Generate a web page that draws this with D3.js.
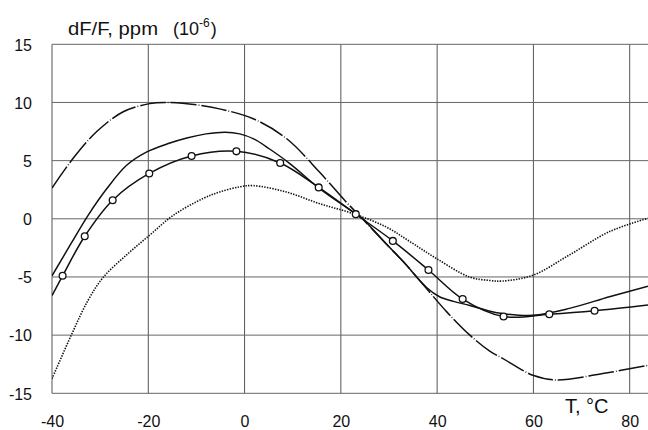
<!DOCTYPE html>
<html>
<head>
<meta charset="utf-8">
<script src="https://cdn.jsdelivr.net/npm/d3@7"></script>
<style>
  body { margin: 0; background: #fff; }
  text { font-family: Arial, "Liberation Sans", sans-serif; fill: #111; }
</style>
</head>
<body>
<div id="chart"></div>
<script>
// tick values
const xTicks = [-40, -20, 0, 20, 40, 60, 80];
const yTicks = [-15, -10, -5, 0, 5, 10, 15];

// curve with circle markers (first and last points are the line ends, no marker)
const markT = [-40, -37.8, -33.2, -27.4, -19.8, -11.0, -1.7, 7.4, 15.4, 23.1, 30.8, 38.2, 45.3, 53.8, 63.3, 72.7, 83.8];
const markV = [-6.6, -4.9, -1.5, 1.6, 3.9, 5.4, 5.8, 4.8, 2.7, 0.4, -1.9, -4.4, -6.9, -8.4, -8.2, -7.9, -7.4];

// plain solid curve
const solidT = [-40, -36, -32.5, -28.6, -24.5, -20.3, -16, -12, -8, -4, -1, 2, 5.2, 9.4, 15.6, 22.5, 24.5, 29.4, 33, 37.8, 40.5, 43.4, 46.8, 51, 53.6, 59.9, 67.5, 75.8, 83.8];
const solidV = [-4.9, -2.1, 0.3, 2.6, 4.6, 5.75, 6.45, 6.95, 7.3, 7.45, 7.3, 6.85, 6.0, 4.75, 2.6, 0.6, 0, -2.15, -3.7, -5.9, -6.7, -7.1, -7.45, -7.95, -8.15, -8.3, -7.7, -6.7, -5.8];

// long dash curve
const dashT = [-40, -35.6, -30.7, -25.2, -19.7, -16.2, -10, -5.2, 1.8, 8.7, 15.6, 21.1, 24.5, 29.4, 33, 37.8, 42, 46.8, 51, 53.6, 59.9, 64.7, 74.4, 83.8];
const dashV = [2.65, 5.2, 7.5, 9.2, 9.9, 10.0, 9.8, 9.45, 8.6, 6.9, 4.0, 1.45, 0, -2.15, -3.7, -6.0, -8.0, -10.0, -11.4, -12.0, -13.45, -13.85, -13.3, -12.6];

// dotted curve
const dotT = [-40, -36, -32.5, -29.3, -24.5, -19.7, -14.8, -8.6, -5.2, -1, 1.8, 8.7, 15.6, 22.5, 29.4, 34.5, 39.8, 46.7, 50.9, 53.6, 59.9, 67.5, 75.8, 83.8];
const dotV = [-13.75, -10, -7.0, -5.0, -3.1, -1.4, 0.3, 1.75, 2.3, 2.75, 2.85, 2.3, 1.3, 0.45, -0.7, -2.0, -3.4, -5.0, -5.3, -5.35, -4.85, -3.1, -1.1, 0.05];

const W = 648, H = 430;
const plotLeft = 52, plotTop = 44.3, plotBottom = 393.3;

const x = d3.scaleLinear().domain([-40, 80]).range([plotLeft, 629.7]);
const y = d3.scaleLinear().domain([-15, 15]).range([plotBottom, plotTop]);

const svg = d3.select("#chart").append("svg")
    .attr("width", W)
    .attr("height", H);

svg.append("defs").append("clipPath").attr("id", "plot")
    .append("rect").attr("x", plotLeft).attr("y", plotTop - 2)
    .attr("width", W - plotLeft).attr("height", plotBottom - plotTop + 4);

// grid
const grid = svg.append("g");
xTicks.forEach(t => {
    grid.append("line")
        .attr("x1", x(t)).attr("x2", x(t))
        .attr("y1", plotTop).attr("y2", plotBottom)
        .attr("stroke", "#555").attr("stroke-width", 1);
});
yTicks.forEach(t => {
    grid.append("line")
        .attr("x1", plotLeft).attr("x2", W)
        .attr("y1", y(t)).attr("y2", y(t))
        .attr("stroke", "#666").attr("stroke-width", 1);
});

// axis labels (plain hyphen for negatives, as in the original)
const fmt = d => String(d);
const xAxis = d3.axisBottom(x).tickValues(xTicks).tickFormat(fmt).tickSize(0).tickPadding(0);
const gx = svg.append("g").attr("transform", `translate(0,${plotBottom})`).call(xAxis);
gx.select(".domain").remove();
gx.selectAll("text")
    .attr("font-size", 16).attr("font-family", null)
    .attr("dy", null).attr("y", 33.5);

const yAxis = d3.axisLeft(y).tickValues(yTicks).tickFormat(fmt).tickSize(0).tickPadding(0);
const gy = svg.append("g").attr("transform", `translate(32,0)`).call(yAxis);
gy.select(".domain").remove();
gy.selectAll("text")
    .attr("font-size", 16).attr("font-family", null)
    .attr("dy", "0.36em");
svg.selectAll(".tick text").attr("fill", "#111");

// curves
const line = d3.line()
    .x(d => x(d[0]))
    .y(d => y(d[1]))
    .curve(d3.curveCatmullRom.alpha(0.5));

const plot = svg.append("g").attr("clip-path", "url(#plot)");

plot.append("path")
    .datum(dotT.map((t, i) => [t, dotV[i]]))
    .attr("d", line)
    .attr("fill", "none").attr("stroke", "#111")
    .attr("stroke-width", 1.6).attr("stroke-dasharray", "1.4,1.3");

plot.append("path")
    .datum(dashT.map((t, i) => [t, dashV[i]]))
    .attr("d", line)
    .attr("fill", "none").attr("stroke", "#111")
    .attr("stroke-width", 1.5).attr("stroke-dasharray", "26,2,0.8,2");

plot.append("path")
    .datum(solidT.map((t, i) => [t, solidV[i]]))
    .attr("d", line)
    .attr("fill", "none").attr("stroke", "#111")
    .attr("stroke-width", 1.5);

const marked = markT.map((t, i) => [t, markV[i]]);
plot.append("path")
    .datum(marked)
    .attr("d", line)
    .attr("fill", "none").attr("stroke", "#111")
    .attr("stroke-width", 1.5);

plot.selectAll("circle.mark")
    .data(marked.slice(1, -1))
    .join("circle")
    .attr("class", "mark")
    .attr("cx", d => x(d[0]))
    .attr("cy", d => y(d[1]))
    .attr("r", 3.4)
    .attr("fill", "#fff").attr("stroke", "#111").attr("stroke-width", 1.3);

// titles
svg.append("text").attr("x", 68).attr("y", 35)
    .attr("font-size", 18)
    .attr("textLength", 90).attr("lengthAdjust", "spacingAndGlyphs")
    .text("dF/F, ppm");
const pow = svg.append("text").attr("x", 173).attr("y", 35).attr("font-size", 18);
pow.append("tspan").text("(10");
pow.append("tspan").attr("font-size", 12).attr("dy", -8).text("-6");
pow.append("tspan").attr("dy", 8).attr("dx", 1).text(")");

svg.append("text").attr("x", 565).attr("y", 413)
    .attr("font-size", 20).text("T, °C");
</script>
</body>
</html>
